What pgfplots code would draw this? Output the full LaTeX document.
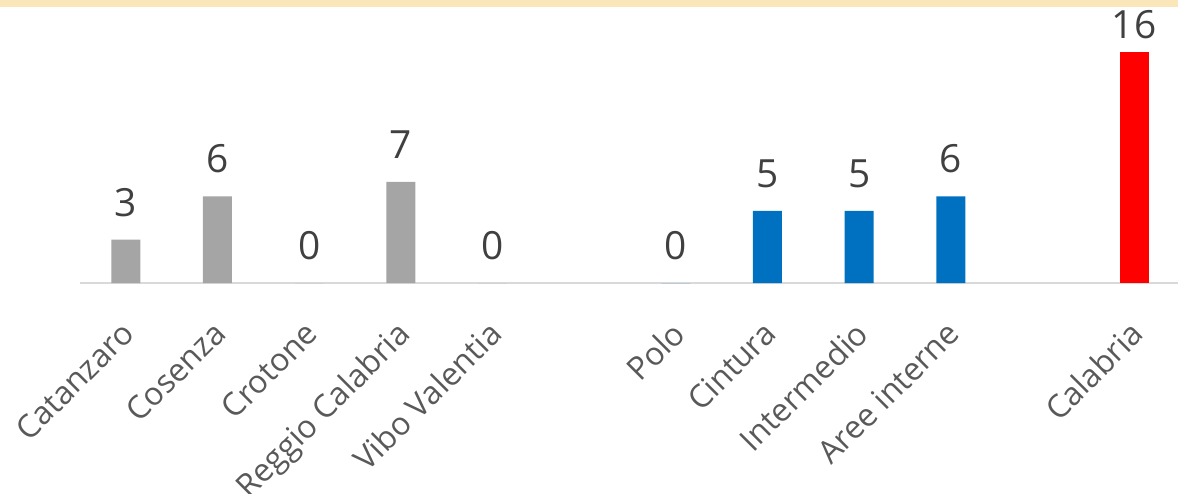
\documentclass[border=0pt]{standalone}
\usepackage{fontspec}
\setmainfont{Open Sans}
\usepackage{pgfplots}
\pgfplotsset{compat=1.18}
\definecolor{band}{HTML}{FAE6B9}
\definecolor{barg}{HTML}{A5A5A5}
\definecolor{barb}{HTML}{0070C0}
\definecolor{barr}{HTML}{FF0000}
\definecolor{lineg}{HTML}{D9D9D9}
\definecolor{tickg}{HTML}{595959}
\definecolor{valg}{HTML}{404040}
\begin{document}
\begin{tikzpicture}
\begin{axis}[
  scale only axis, width=1100bp, height=283bp,
  xmin=-0.5, xmax=11.5, ymin=0, ymax=19.6,
  axis y line=none, axis x line*=bottom,
  x axis line style={draw=lineg, line width=1.5bp},
  major tick length=0pt, xtick style={draw=none},
  xtick={0,1,2,3,4,6,7,8,9,11},
  xticklabels={Catanzaro,Cosenza,Crotone,Reggio Calabria,Vibo Valentia,Polo,Cintura,Intermedio,Aree interne,Calabria},
  xticklabel shift=36bp,
  xticklabel style={rotate=45, anchor=north east, inner sep=0pt, text=tickg,
    font=\fontsize{32}{38}\selectfont, xshift=-4.2bp, yshift=4.2bp},
  /pgf/number format/assume math mode=true,
  clip=false,
  every node near coord/.append style={anchor=south, inner sep=0pt, yshift=23bp,
    text=valg, font=\fontsize{39}{45}\selectfont},
]
\addplot[ybar, bar width=29bp, bar shift=0pt, fill=barg, draw=none, nodes near coords]
  coordinates {(0,3) (1,6) (2,0) (3,7) (4,0)};
\addplot[ybar, bar width=29bp, bar shift=0pt, fill=barb, draw=none, nodes near coords]
  coordinates {(6,0) (7,5) (8,5) (9,6)};
\addplot[ybar, bar width=29bp, bar shift=0pt, fill=barr, draw=none, nodes near coords,
  every node near coord/.append style={yshift=-10bp}]
  coordinates {(11,16)};
\end{axis}
\fill[band] (-80bp,276bp) rectangle (1098bp,283bp);
\pgfresetboundingbox
\path[use as bounding box] (-80bp,-211bp) rectangle (1098bp,283bp);
\end{tikzpicture}
\end{document}
